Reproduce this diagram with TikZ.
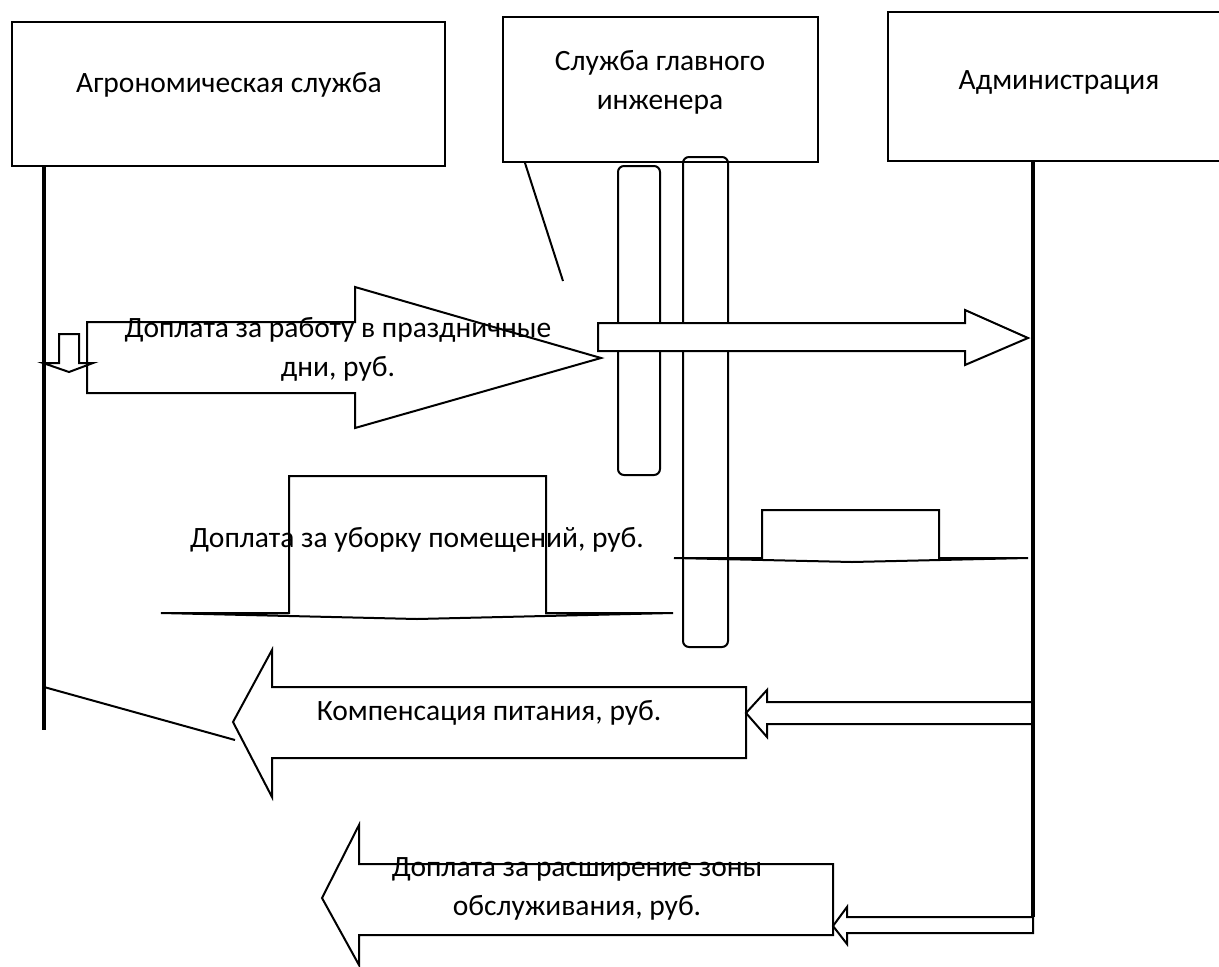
\documentclass[tikz,border=0pt]{standalone}
\usepackage{fontspec}
\setmainfont{Carlito}
\begin{document}
\begin{tikzpicture}[x=1pt,y=-1pt,
  box/.style={draw,line width=2pt,minimum width=#1,inner sep=0pt},
  life/.style={line width=3.5pt},
  thinln/.style={line width=2pt},
  outl/.style={draw,line width=2pt,line join=miter},
  rr/.style={draw,line width=2pt,rounded corners=6pt,inner sep=0pt},
  txt/.style={font=\fontsize{29.5}{39}\selectfont,align=center,inner sep=0pt}]
\useasboundingbox (0,0) rectangle (1219,967);
\clip (0,0) rectangle (1219,967);
% boxes
\node[box=433pt,minimum height=144pt] (agro) at (228.5,94) {};
\node[box=315pt,minimum height=145pt] (eng) at (660.5,89.5) {};
\node[box=337pt,minimum height=149pt] (adm) at (1056.5,86.5) {};
\node[txt] (agrot) at (229,85) {Агрономическая служба};
\node[txt] (engt) at (660,82) {Служба главного\\инженера};
\node[txt] (admt) at (1059,82) {Администрация};
% lifelines
\coordinate (agroEnd) at (44,730);
\coordinate (admEnd) at (1033,917);
\draw[life] (agro.south west -| agroEnd) -- (agroEnd);
\draw[life] (adm.south west -| admEnd) -- (admEnd);
\coordinate (engFree) at (563,281);
\draw[thinln] (525,163) -- (engFree);
% rounded bars
\node[rr,minimum width=42pt,minimum height=309pt] (bar1) at (639,320.5) {};
\node[rr,minimum width=45pt,minimum height=490pt] (bar2) at (705.5,402) {};
% hollow arrow to administration
\draw[outl,fill=white] (598,323) -- (965,323) -- (965,310) -- (1028,338) -- (965,365) -- (965,351) -- (598,351) -- cycle;
% holiday arrow
\draw[outl] (87,322) -- (355,322) -- (355,287) -- (601,358) -- (355,428) -- (355,393) -- (87,393) -- cycle;
\draw[outl,fill=white] (59,334) -- (79,334) -- (79,363) -- (93,363) -- (69,372) -- (43,363) -- (59,363) -- cycle;
\node[txt] (hol) at (338,349) {Доплата за работу в праздничные\\дни, руб.};
% cleaning shapes
\draw[outl] (161,613) -- (289,613) -- (289,476) -- (546,476) -- (546,613) -- (673,613) -- (417,619) -- cycle;
\draw[outl] (674,558) -- (762,558) -- (762,510) -- (939,510) -- (939,558) -- (1028,558) -- (852,562) -- cycle;
\node[txt] (clean) at (417,540) {Доплата за уборку помещений, руб.};
% compensation arrow
\draw[outl] (233,722) -- (272,650) -- (272,687) -- (746,687) -- (746,758) -- (272,758) -- (272,797) -- cycle;
\draw[outl] (1033,702) -- (767,702) -- (767,690) -- (746,713) -- (767,737) -- (767,724) -- (1033,724);
\draw[thinln] (44,687) -- (235,740);
\node[txt] (comp) at (489,713) {Компенсация питания, руб.};
% zone arrow
\draw[outl] (322,898) -- (359,825) -- (359,864) -- (833,864) -- (833,935) -- (359,935) -- (359,965) -- cycle;
\draw[outl] (1033,917) -- (847,917) -- (847,907) -- (833,926) -- (847,944) -- (847,933) -- (1033,933) -- cycle;
\node[txt] (zone) at (577,889) {Доплата за расширение зоны\\обслуживания, руб.};
\end{tikzpicture}
\end{document}
